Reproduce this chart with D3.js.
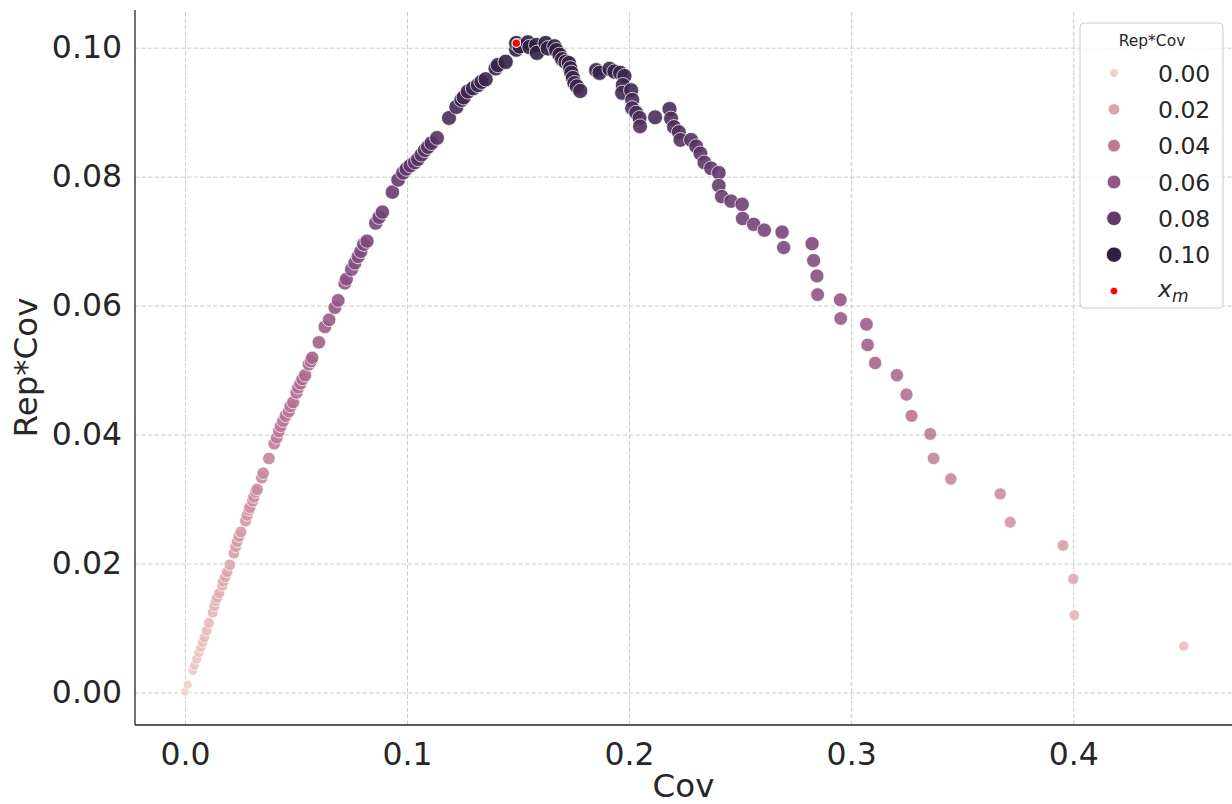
<!DOCTYPE html>
<html>
<head>
<meta charset="utf-8">
<script src="https://cdn.jsdelivr.net/npm/d3@7"></script>
<style>
  body { margin: 0; background: #fff; }
  svg text { font-family: "DejaVu Sans", sans-serif; fill: #262626; }
</style>
</head>
<body>
<svg id="chart" width="1232" height="804"></svg>
<script>
// values: Cov (x) and Rep*Cov (y, also hue and size)
var cov = [
  0.0000, 0.0012, 0.0035, 0.0042, 0.0053, 0.0063, 0.0072, 0.0080, 0.0087, 0.0098,
  0.0108, 0.0125, 0.0132, 0.0139, 0.0145, 0.0154, 0.0168, 0.0172, 0.0181, 0.0190,
  0.0202, 0.0220, 0.0228, 0.0235, 0.0243, 0.0252, 0.0273, 0.0280, 0.0288, 0.0292,
  0.0305, 0.0310, 0.0319, 0.0325, 0.0346, 0.0352, 0.0378, 0.0402, 0.0413, 0.0423,
  0.0431, 0.0442, 0.0453, 0.0468, 0.0475, 0.0487, 0.0502, 0.0510, 0.0520, 0.0529,
  0.0541, 0.0558, 0.0567, 0.0573, 0.0603, 0.0630, 0.0649, 0.0675, 0.0690, 0.0720,
  0.0727, 0.0750, 0.0765, 0.0780, 0.0792, 0.0805, 0.0820, 0.0859, 0.0874, 0.0889,
  0.0934, 0.0960, 0.0982, 0.0997, 0.1015, 0.1035, 0.1049, 0.1065, 0.1080, 0.1094,
  0.1110, 0.1135, 0.1189, 0.1222, 0.1245, 0.1255, 0.1274, 0.1297, 0.1319, 0.1335,
  0.1354, 0.1399, 0.1409, 0.1444, 0.1492, 0.1492, 0.1507, 0.1544, 0.1552, 0.1582,
  0.1585, 0.1624, 0.1634, 0.1664, 0.1672, 0.1687, 0.1699, 0.1714, 0.1729, 0.1735,
  0.1740, 0.1747, 0.1754, 0.1765, 0.1780, 0.1852, 0.1867, 0.1912, 0.1934, 0.1960,
  0.1979, 0.1972, 0.1969, 0.2009, 0.2014, 0.2014, 0.2032, 0.2047, 0.2049, 0.2117,
  0.2182, 0.2189, 0.2202, 0.2224, 0.2231, 0.2279, 0.2302, 0.2321, 0.2339, 0.2369,
  0.2404, 0.2404, 0.2417, 0.2459, 0.2509, 0.2511, 0.2561, 0.2609, 0.2689, 0.2696,
  0.2824, 0.2831, 0.2846, 0.2849, 0.2951, 0.2953, 0.3069, 0.3074, 0.3108, 0.3206,
  0.3249, 0.3272, 0.3356, 0.3371, 0.3449, 0.3671, 0.3716, 0.3954, 0.4000, 0.4005,
  0.4498
];
var repCov = [
  0.0001, 0.0012, 0.0034, 0.0042, 0.0052, 0.0062, 0.0070, 0.0078, 0.0085, 0.0096,
  0.0108, 0.0124, 0.0134, 0.0142, 0.0147, 0.0154, 0.0166, 0.0172, 0.0179, 0.0187,
  0.0198, 0.0216, 0.0226, 0.0234, 0.0242, 0.0249, 0.0266, 0.0275, 0.0283, 0.0287,
  0.0297, 0.0303, 0.0311, 0.0315, 0.0333, 0.0340, 0.0363, 0.0386, 0.0395, 0.0405,
  0.0413, 0.0421, 0.0429, 0.0436, 0.0444, 0.0450, 0.0465, 0.0473, 0.0479, 0.0486,
  0.0492, 0.0509, 0.0514, 0.0519, 0.0543, 0.0567, 0.0578, 0.0597, 0.0608, 0.0635,
  0.0641, 0.0656, 0.0666, 0.0676, 0.0684, 0.0695, 0.0700, 0.0728, 0.0737, 0.0745,
  0.0776, 0.0795, 0.0806, 0.0812, 0.0817, 0.0822, 0.0827, 0.0834, 0.0841, 0.0846,
  0.0852, 0.0860, 0.0891, 0.0908, 0.0919, 0.0923, 0.0932, 0.0937, 0.0942, 0.0947,
  0.0951, 0.0968, 0.0973, 0.0978, 0.0997, 0.1007, 0.1002, 0.1008, 0.1001, 0.1004,
  0.0992, 0.1007, 0.0999, 0.1002, 0.0996, 0.0989, 0.0982, 0.0978, 0.0976, 0.0968,
  0.0961, 0.0953, 0.0945, 0.0940, 0.0933, 0.0965, 0.0961, 0.0967, 0.0963, 0.0961,
  0.0956, 0.0942, 0.0930, 0.0934, 0.0919, 0.0906, 0.0899, 0.0891, 0.0878, 0.0892,
  0.0905, 0.0890, 0.0877, 0.0869, 0.0857, 0.0857, 0.0847, 0.0836, 0.0822, 0.0813,
  0.0806, 0.0786, 0.0769, 0.0762, 0.0757, 0.0735, 0.0726, 0.0717, 0.0714, 0.0690,
  0.0696, 0.0670, 0.0646, 0.0617, 0.0609, 0.0580, 0.0571, 0.0539, 0.0511, 0.0492,
  0.0462, 0.0429, 0.0401, 0.0363, 0.0331, 0.0308, 0.0264, 0.0228, 0.0176, 0.0120,
  0.0072
];
// the marked optimum x_m
var xmCov = [0.1492];
var xmRepCov = [0.1007];

var xTicks = [0.0, 0.1, 0.2, 0.3, 0.4];
var yTicks = [0.00, 0.02, 0.04, 0.06, 0.08, 0.10];
var legendValues = [0.00, 0.02, 0.04, 0.06, 0.08, 0.10];

// plot box (window.top is read-only, so avoid that name)
var plotLeft = 135, plotRight = 1232, plotTop = 10, plotBottom = 725;

var svg = d3.select("#chart");

var x = d3.scaleLinear().domain([-0.0225, 0.4715]).range([plotLeft, plotRight]);
var y = d3.scaleLinear().domain([-0.00504, 0.10584]).range([plotBottom, plotTop]);

// seaborn's default cubehelix map (start 0, rot .4, hue .8, light .85, dark .15)
function cubehelix(t) {
  var xx = 0.85 - 0.7 * t;
  var a = 0.8 * xx * (1 - xx) / 2;
  var phi = 2 * Math.PI * (0.4 * xx);
  var c = Math.cos(phi), s = Math.sin(phi);
  function ch(p0, p1) {
    var v = xx + a * (p0 * c + p1 * s);
    return Math.round(255 * Math.max(0, Math.min(1, v)));
  }
  return d3.rgb(ch(-0.14861, 1.78277), ch(-0.29227, -0.90649), ch(1.97294, 0)).toString();
}

var vmin = d3.min(repCov), vmax = d3.max(repCov);
var norm = d3.scaleLinear().domain([vmin, vmax]).range([0, 1]).clamp(true);
var rScale = d3.scaleSqrt().domain([vmin, vmax]).range([4.3, 7.7]).clamp(true);

function dashGrid(g) {
  g.select(".domain").remove();
  g.selectAll("line").attr("stroke", "#cccccc").attr("stroke-width", 1).attr("stroke-dasharray", "4.5,2");
}

// grid
svg.append("g")
  .attr("transform", "translate(0," + plotBottom + ")")
  .call(d3.axisBottom(x).tickValues(xTicks).tickSize(-(plotBottom - plotTop)).tickFormat(""))
  .call(dashGrid);
svg.append("g")
  .attr("transform", "translate(" + plotLeft + ",0)")
  .call(d3.axisLeft(y).tickValues(yTicks).tickSize(-(plotRight - plotLeft)).tickFormat(""))
  .call(dashGrid);

// points
var pts = cov.map(function(c, i) { return { cov: c, rc: repCov[i] }; });
svg.append("g").selectAll("circle")
  .data(pts)
  .enter().append("circle")
  .attr("cx", function(d) { return x(d.cov); })
  .attr("cy", function(d) { return y(d.rc); })
  .attr("r", function(d) { return rScale(d.rc); })
  .attr("fill", function(d) { return cubehelix(norm(d.rc)); })
  .attr("fill-opacity", 0.9)
  .attr("stroke", "#ffffff")
  .attr("stroke-opacity", 0.9)
  .attr("stroke-width", 0.8);

svg.append("g").selectAll("circle")
  .data(xmCov)
  .enter().append("circle")
  .attr("cx", function(d) { return x(d); })
  .attr("cy", function(d, i) { return y(xmRepCov[i]); })
  .attr("r", 4.3)
  .attr("fill", "#ff0000")
  .attr("stroke", "#ffffff")
  .attr("stroke-width", 1.2);

// spines
svg.append("line").attr("x1", plotLeft).attr("x2", plotLeft).attr("y1", plotTop).attr("y2", plotBottom)
  .attr("stroke", "#262626").attr("stroke-width", 1.3);
svg.append("line").attr("x1", plotLeft).attr("x2", plotRight).attr("y1", plotBottom).attr("y2", plotBottom)
  .attr("stroke", "#262626").attr("stroke-width", 1.3);

// tick labels
svg.append("g")
  .attr("transform", "translate(0," + plotBottom + ")")
  .call(d3.axisBottom(x).tickValues(xTicks).tickSize(0).tickPadding(18).tickFormat(d3.format(".1f")))
  .call(function(g) {
    g.select(".domain").remove();
    g.selectAll("text").attr("font-size", 31.5).attr("font-family", "DejaVu Sans").attr("fill", "#262626");
  });
svg.append("g")
  .attr("transform", "translate(" + plotLeft + ",0)")
  .call(d3.axisLeft(y).tickValues(yTicks).tickSize(0).tickPadding(13).tickFormat(d3.format(".2f")))
  .call(function(g) {
    g.select(".domain").remove();
    g.selectAll("text").attr("font-size", 31.5).attr("font-family", "DejaVu Sans").attr("fill", "#262626");
  });

// axis labels
svg.append("text")
  .attr("x", (plotLeft + plotRight) / 2).attr("y", 797)
  .attr("text-anchor", "middle").attr("font-size", 32.5)
  .text("Cov");
svg.append("text")
  .attr("transform", "translate(37," + ((plotTop + plotBottom) / 2) + ") rotate(-90)")
  .attr("text-anchor", "middle").attr("font-size", 32.5)
  .text("Rep*Cov");

// legend
var leg = svg.append("g");
leg.append("rect")
  .attr("x", 1080).attr("y", 23).attr("width", 143).attr("height", 285).attr("rx", 4)
  .attr("fill", "#ffffff").attr("fill-opacity", 0.8)
  .attr("stroke", "#cccccc").attr("stroke-width", 1);
leg.append("text")
  .attr("x", 1152).attr("y", 46).attr("text-anchor", "middle").attr("font-size", 15.5)
  .text("Rep*Cov");

var rowY = d3.scaleLinear().domain([0, 6]).range([73, 291]);
var rows = leg.selectAll("g.row")
  .data(legendValues)
  .enter().append("g").attr("class", "row");
rows.append("circle")
  .attr("cx", 1114)
  .attr("cy", function(d, i) { return rowY(i); })
  .attr("r", function(d) { return rScale(d); })
  .attr("fill", function(d) { return cubehelix(norm(d)); })
  .attr("stroke", "#ffffff").attr("stroke-width", 0.8);
rows.append("text")
  .attr("x", 1158)
  .attr("y", function(d, i) { return rowY(i) + 8.5; })
  .attr("font-size", 23.5)
  .text(function(d) { return d3.format(".2f")(d); });

leg.append("circle")
  .attr("cx", 1114).attr("cy", rowY(6)).attr("r", 3.8)
  .attr("fill", "#ff0000").attr("stroke", "#ffffff").attr("stroke-width", 0.8);
var xm = leg.append("text")
  .attr("x", 1158).attr("y", rowY(6) + 6)
  .attr("font-size", 23.5).attr("font-style", "italic");
xm.append("tspan").text("x");
xm.append("tspan").attr("font-size", 17).attr("dy", 5).text("m");
</script>
</body>
</html>
